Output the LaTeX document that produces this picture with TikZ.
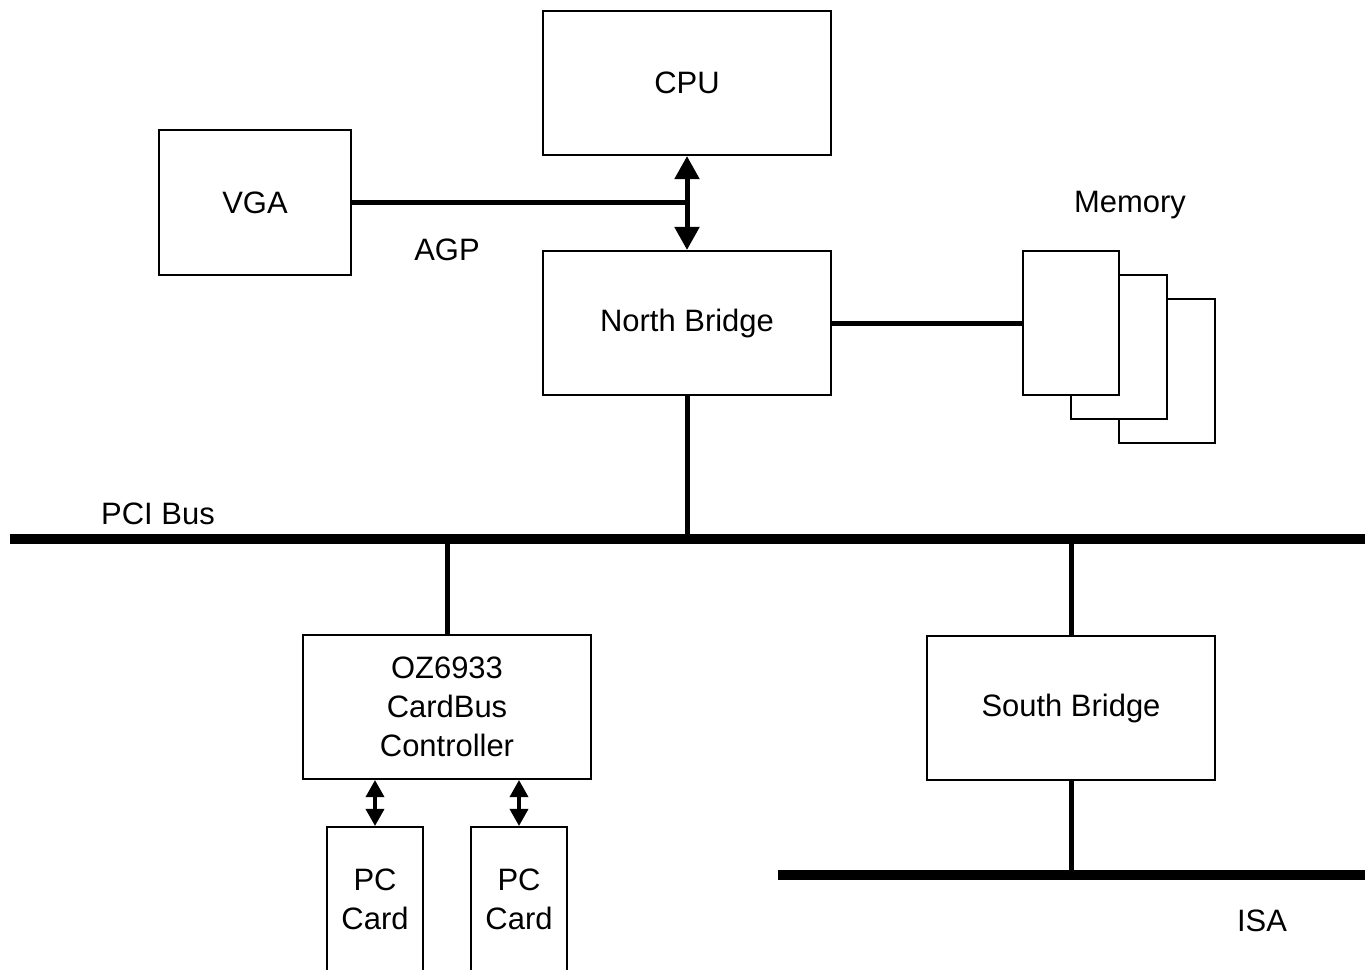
\documentclass[tikz,border=0pt]{standalone}
\usepackage{fontspec}
\setmainfont{Liberation Sans}
\usetikzlibrary{arrows.meta}

\begin{document}
\begin{tikzpicture}[x=0.01cm,y=-0.01cm,
  font=\fontsize{8.8}{11}\selectfont,
  block/.style={draw,line width=0.02cm,fill=white,minimum width=2.88cm,minimum height=1.44cm,align=center,inner sep=0},
  pccard/.style={draw,line width=0.02cm,minimum width=0.96cm,minimum height=1.44cm,align=center,inner sep=0},
  memcard/.style={draw,line width=0.02cm,fill=white,minimum width=0.96cm,minimum height=1.44cm,inner sep=0},
  wire/.style={line width=0.05cm},
  bus/.style={line width=0.1cm},
  dbl/.style={line width=0.05cm,{Triangle[width=0.24cm,length=0.23cm]}-{Triangle[width=0.24cm,length=0.23cm]}},
  dblsmall/.style={line width=0.035cm,{Triangle[width=0.18cm,length=0.17cm]}-{Triangle[width=0.18cm,length=0.17cm]}}]
\clip (0,0) rectangle (1369,969);
%CPU and VGA
  \node[block] (cpu) at (687,83) {CPU};
  \node[block,minimum width=1.92cm] (vga) at (255,202.5) {VGA};
  \node (agp) at (447,250) {AGP};
%North bridge
  \node[block] (nb) at (687,323) {North Bridge};
  \draw[dbl] (cpu.south) -- (nb.north);
  \draw[wire] (vga.east) -- (vga.east -| cpu.south);
%Memory
  \node (memlabel) at (1130,205) {Memory};
  \node[memcard] (mem3) at (1167,371) {};
  \node[memcard] (mem2) at (1119,347) {};
  \node[memcard] (mem1) at (1071,323) {};
  \draw[wire] (nb.east) -- (mem1.west);
% bus
  \coordinate (pciL) at (10,539);
  \coordinate (pciR) at (1365,539);
  \draw[bus] (pciL) -- (pciR);
  \node (pcilabel) at (158,514) {PCI Bus};
  \draw[wire] (nb.south) -- (nb.south |- pciL);
%CardBus controller
  \node[block] (oz) at (447,707) {OZ6933\\CardBus\\Controller};
  \draw[wire] (oz.north) -- (oz.north |- pciL);
  \node[pccard] (card1) at (375,899) {PC\\Card};
  \node[pccard] (card2) at (519,899) {PC\\Card};
  \draw[dblsmall] (card1.north |- oz.south) -- (card1.north);
  \draw[dblsmall] (card2.north |- oz.south) -- (card2.north);
%South bridge
  \node[block] (sb) at (1071,708) {South Bridge};
  \draw[wire] (sb.north) -- (sb.north |- pciL);
  \coordinate (isaL) at (778,875);
  \coordinate (isaR) at (1365,875);
  \draw[bus] (isaL) -- (isaR);
  \node (isalabel) at (1262,921) {ISA};
  \draw[wire] (sb.south) -- (sb.south |- isaL);
\end{tikzpicture}
\end{document}
